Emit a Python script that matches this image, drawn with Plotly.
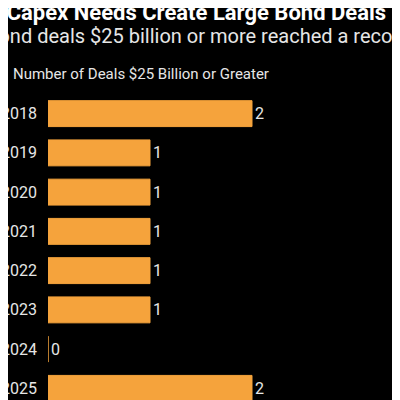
import plotly.graph_objects as go

years = ["2018", "2019", "2020", "2021", "2022", "2023", "2024", "2025"]
deals = [2, 1, 1, 1, 1, 1, 0, 2]
title = "AI Capex Needs Create Large Bond Deals"
subtitle = "Bond deals $25 billion or more reached a record"
axis_label = "Number of Deals $25 Billion or Greater"

W, L = 400, 40
pw = W - L

def px(x):
    return (x - L) / pw

fig = go.Figure(go.Bar(
    x=deals, y=years, orientation="h",
    marker=dict(color="#f5a33c", line=dict(color="#f5a33c", width=1)),
    width=0.66,
    text=[str(d) for d in deals], textposition="outside",
    textfont=dict(color="#e6e6e6", size=16, family="Roboto"),
    cliponaxis=False,
))
fig.update_layout(
    width=400, height=400, paper_bgcolor="black", plot_bgcolor="black",
    margin=dict(l=L, r=0, t=86, b=0, autoexpand=False), showlegend=False,
    xaxis=dict(range=[0, 2 * pw / 204], visible=False, automargin=False),
    yaxis=dict(range=[7.5, -0.5], showgrid=False, ticks="", ticklabelstandoff=10,
               automargin=False,
               tickfont=dict(color="#e6e6e6", size=16, family="Roboto")),
    font=dict(family="Roboto"),
    annotations=[
        dict(text="<b>" + title + "</b>", xref="paper", yref="paper", x=px(-30), y=1 + 82 / 314,
             xanchor="left", yanchor="middle", showarrow=False,
             font=dict(color="#ffffff", size=22)),
        dict(text=subtitle, xref="paper", yref="paper", x=px(-24), y=1 + 58 / 314,
             xanchor="left", yanchor="middle", showarrow=False,
             font=dict(color="#e6e6e6", size=20)),
        dict(text=axis_label, xref="paper", yref="paper", x=px(3), y=1 + 20 / 314,
             xanchor="left", yanchor="middle", showarrow=False,
             font=dict(color="#e6e6e6", size=15)),
    ],
)
fig.write_html("out.html")
